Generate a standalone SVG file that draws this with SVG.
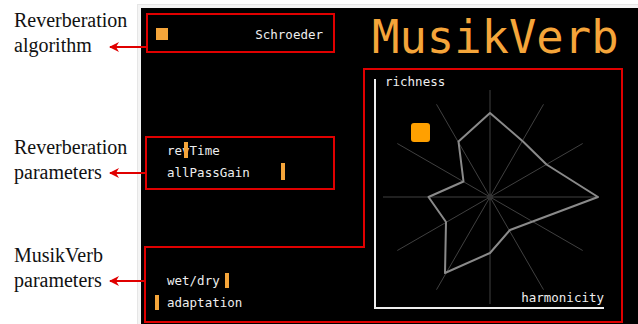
<svg xmlns="http://www.w3.org/2000/svg" width="638" height="324" viewBox="0 0 638 324">
<defs>
<style>
.lbl{font-family:"Liberation Serif","Times New Roman",serif;font-size:20px;fill:#111}
.mono{font-family:"DejaVu Sans Mono",monospace;font-size:12.5px;fill:#eeeeee}
.box{fill:none;stroke:#e00000;stroke-width:2}
.arr{stroke:#e00000;stroke-width:2;fill:none;marker-end:url(#ah)}
.bar{fill:#f5a53a}
.spoke{stroke:#404040;stroke-width:1}
</style>
<marker id="ah" markerWidth="10" markerHeight="10" refX="9" refY="5" orient="auto" markerUnits="userSpaceOnUse" viewBox="0 0 10 10">
<path d="M0,0 L10,5 L0,10 L3,5 Z" fill="#e00000"/>
</marker>
</defs>
<rect width="638" height="324" fill="#ffffff"/>
<rect x="137.5" y="4.5" width="510" height="330" fill="#f4f4f4" stroke="#e6e6e6"/>
<rect x="141" y="8" width="497" height="316" fill="#000"/>

<g id="title"><text x="372" y="53" font-family="DejaVu Sans Mono,monospace" font-size="45.5" fill="#f5a53a">MusikVerb</text></g>

<g id="label-algorithm">
<text class="lbl" x="14" y="27">Reverberation</text>
<text class="lbl" x="14" y="52">algorithm</text>
</g>
<g id="label-reverb-params">
<text class="lbl" x="14" y="154">Reverberation</text>
<text class="lbl" x="14" y="179">parameters</text>
</g>
<g id="label-musikverb-params">
<text class="lbl" x="14" y="262">MusikVerb</text>
<text class="lbl" x="14" y="287">parameters</text>
</g>

<g id="algorithm-box">
<rect class="box" x="147" y="14" width="187" height="38"/>
<rect x="156" y="28" width="12" height="12" fill="#f5a53a"/>
<text class="mono" x="323" y="39" text-anchor="end">Schroeder</text>
</g>

<g id="reverb-params-box">
<rect class="box" x="146" y="137" width="188" height="52"/>
<text class="mono" x="167" y="155">revTime</text>
<rect class="bar" x="184" y="142" width="4" height="16"/>
<text class="mono" x="167" y="177">allPassGain</text>
<rect class="bar" x="281" y="163" width="4" height="17"/>
</g>

<g id="musikverb-params-box">
<path class="box" d="M145,247 L364,247 L364,69 L622,69 L622,322 L145,322 Z"/>
<text class="mono" x="167" y="285">wet/dry</text>
<rect class="bar" x="225" y="273" width="4" height="15"/>
<rect class="bar" x="155" y="295" width="4" height="15"/>
<text class="mono" x="167" y="307">adaptation</text>
</g>

<g id="radar">
<g class="spoke">
<line x1="490" y1="90" x2="490" y2="304"/>
<line x1="383" y1="197" x2="597" y2="197"/>
<line x1="436.5" y1="104.3" x2="543.5" y2="289.7"/>
<line x1="543.5" y1="104.3" x2="436.5" y2="289.7"/>
<line x1="397.3" y1="143.5" x2="582.7" y2="250.5"/>
<line x1="582.7" y1="143.5" x2="397.3" y2="250.5"/>
</g>
<circle cx="490" cy="197" r="3" fill="#333"/>
<polygon points="490,113 523,141.5 546.5,164.5 598,197 510,230 490,253 445,273 446,222 428.5,197 463.5,181.5 458.5,141.5" fill="none" stroke="#8a8a8a" stroke-width="2" stroke-linejoin="round"/>
<rect x="411" y="123" width="19" height="19" rx="3" fill="#ffa000"/>
<path d="M375,79 L375,308 L604,308" fill="none" stroke="#eeeeee" stroke-width="2"/>
<text class="mono" x="385" y="86">richness</text>
<text class="mono" x="604" y="302" text-anchor="end">harmonicity</text>
</g>

<g id="connectors">
<line class="arr" x1="147" y1="47" x2="110" y2="47"/>
<line class="arr" x1="146" y1="173" x2="110" y2="173"/>
<line class="arr" x1="145" y1="281" x2="110" y2="281"/>
</g>
</svg>
